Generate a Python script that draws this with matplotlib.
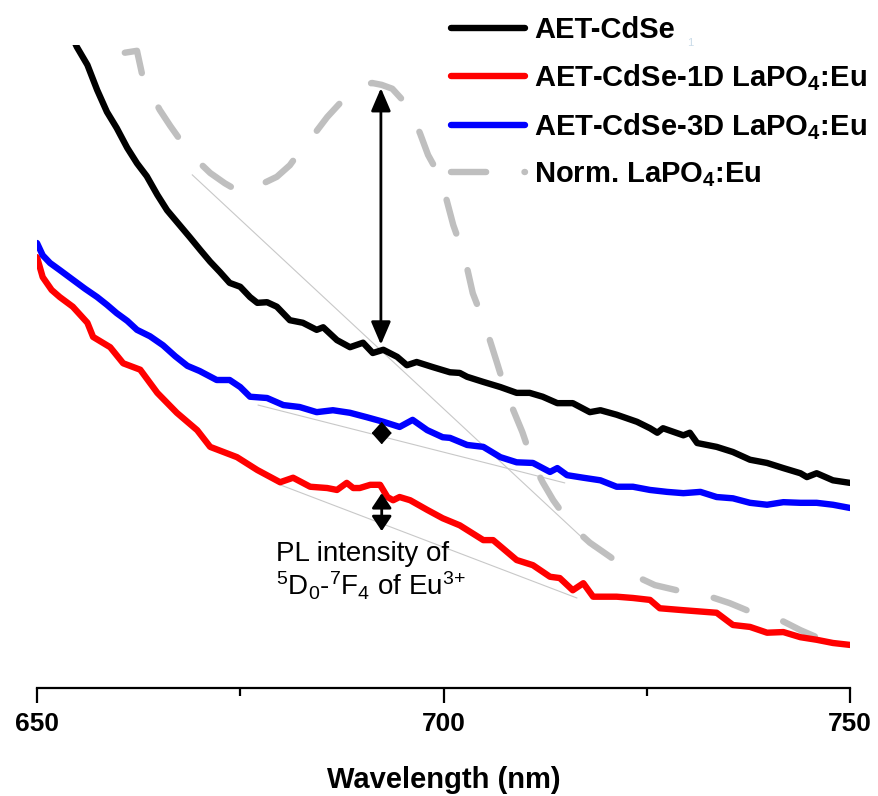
import matplotlib
matplotlib.use("Agg")
import matplotlib.pyplot as plt
from matplotlib.lines import Line2D

plt.rcParams["font.family"] = ["Liberation Sans", "DejaVu Sans"]
plt.rcParams["mathtext.default"] = "regular"

# ---- spectra (wavelength in nm, PL intensity in a.u.) ----
wl_cdse = [654.5, 654.9, 656.2, 657.4, 658.6, 659.8, 661.1, 662.3, 663.5, 664.8,
           666.0, 667.2, 668.8, 670.1, 671.3, 672.5, 673.7, 675.0, 676.2, 677.1,
           678.3, 679.5, 681.1, 682.7, 684.4, 685.2, 686.9, 688.5, 690.1, 691.3,
           692.6, 694.3, 695.5, 696.7, 698.7, 700.8, 702.0, 702.9, 704.9, 707.0,
           709.0, 710.6, 712.2, 714.0, 715.9, 718.0, 719.3, 721.3, 723.8, 725.4,
           726.3, 727.0, 729.5, 730.3, 731.2, 733.6, 735.6, 737.7, 739.8, 741.8,
           743.9, 744.7, 745.9, 747.9, 750.0]
pl_cdse = [100.8, 99.7, 96.9, 93.0, 89.6, 87.1, 84.0, 81.6, 79.6, 76.7,
           74.3, 72.5, 70.1, 68.1, 66.3, 64.7, 63.0, 62.4, 60.8, 59.9,
           60.0, 59.3, 57.2, 56.8, 55.7, 56.1, 54.1, 53.0, 53.7, 52.1,
           52.6, 51.5, 50.2, 50.7, 49.9, 49.1, 49.0, 48.4, 47.6, 46.8,
           45.9, 45.9, 45.3, 44.3, 44.3, 42.9, 43.2, 42.5, 41.4, 40.4,
           39.7, 40.4, 39.3, 39.7, 38.1, 37.5, 36.7, 35.5, 35.0, 34.2,
           33.4, 32.8, 33.4, 32.3, 31.9]

wl_1d = [650.0, 650.7, 651.8, 652.8, 654.4, 656.2, 656.9, 659.0, 660.6, 662.7,
         664.8, 667.2, 669.7, 671.3, 674.6, 677.1, 679.9, 681.5, 683.6, 685.7,
         686.9, 688.1, 688.9, 689.7, 691.0, 692.2, 693.1, 693.8, 694.6, 695.9,
         698.0, 699.9, 702.0, 704.9, 706.1, 709.0, 711.0, 713.1, 714.3, 715.9,
         717.2, 718.4, 721.3, 723.3, 725.4, 726.6, 729.5, 733.6, 735.6, 737.7,
         739.8, 741.8, 743.9, 745.9, 747.9, 750.0]
pl_1d = [67.0, 63.9, 61.9, 60.8, 59.3, 56.8, 54.6, 53.0, 50.5, 49.5,
         45.9, 42.8, 40.1, 37.5, 35.9, 33.9, 32.0, 32.7, 31.3, 31.1,
         30.8, 31.9, 31.1, 31.1, 31.6, 31.6, 29.7, 29.2, 29.7, 29.2,
         27.7, 26.4, 25.3, 23.0, 23.0, 19.9, 19.1, 17.3, 17.1, 15.2,
         16.3, 14.2, 14.2, 14.0, 13.7, 12.4, 12.1, 11.7, 9.8, 9.5,
         8.6, 8.7, 7.9, 7.5, 7.0, 6.7]

wl_3d = [650.0, 650.7, 651.6, 652.8, 654.4, 655.9, 657.4, 658.6, 659.8, 661.1,
         662.3, 663.9, 665.5, 667.0, 668.5, 670.0, 672.1, 673.7, 675.0, 676.2,
         678.3, 680.3, 682.3, 684.4, 686.4, 688.5, 690.6, 692.6, 694.6, 696.2,
         698.0, 699.9, 700.8, 702.9, 704.9, 707.0, 709.0, 711.0, 713.1, 714.0,
         715.2, 717.2, 719.3, 721.3, 723.3, 725.4, 727.5, 729.5, 731.6, 733.6,
         735.6, 737.7, 739.8, 741.8, 743.9, 745.9, 747.9, 750.0]
pl_3d = [69.2, 67.3, 66.1, 65.0, 63.5, 62.1, 60.8, 59.6, 58.3, 57.1,
         55.7, 54.7, 53.3, 51.6, 50.1, 49.3, 47.9, 47.9, 46.8, 45.3,
         45.1, 44.0, 43.7, 42.9, 43.2, 42.8, 42.1, 41.4, 40.6, 41.7,
         40.1, 39.0, 38.9, 37.8, 37.5, 35.9, 35.1, 35.0, 33.6, 34.2,
         33.1, 32.7, 32.3, 31.3, 31.3, 30.8, 30.5, 30.3, 30.5, 29.7,
         29.5, 28.8, 28.5, 28.9, 28.8, 28.8, 28.5, 28.0]

wl_lapo = [660.8, 662.3, 662.9, 663.9, 665.1, 666.4, 667.8, 669.4, 671.3, 673.1,
           675.0, 677.2, 679.5, 681.1, 682.3, 684.2, 685.7, 687.3, 688.9, 690.0,
           691.2, 692.4, 693.7, 695.0, 696.1, 697.1, 698.1, 699.1, 699.9, 701.2,
           702.6, 703.6, 705.1, 706.6, 707.8, 709.7, 711.0, 712.2, 713.5, 715.9,
           718.0, 720.5, 723.8, 726.0, 728.7, 730.7, 732.8, 735.2, 737.3, 739.5,
           741.4, 743.9, 745.9, 747.9, 750.0]
pl_lapo = [98.8, 99.1, 95.6, 92.7, 89.9, 87.4, 84.9, 82.4, 80.1, 78.5,
           77.1, 78.1, 79.5, 81.3, 83.4, 86.3, 88.8, 91.0, 92.7, 93.6,
           94.1, 93.8, 93.2, 91.4, 89.1, 86.3, 82.9, 80.6, 78.2, 72.0,
           67.0, 61.4, 56.5, 50.5, 45.6, 39.8, 35.0, 32.0, 29.2, 25.0,
           22.6, 20.4, 17.3, 16.0, 15.2, 14.8, 14.2, 13.2, 12.1, 11.4,
           10.6, 9.0, 7.9, 7.3, 7.2]

series_labels = ["AET-CdSe", "AET-CdSe-1D LaPO$_4$:Eu",
                 "AET-CdSe-3D LaPO$_4$:Eu", "Norm. LaPO$_4$:Eu"]

# background guide lines under the 5D0-7F4 band: (wl start, wl end, I start, I end)
guide_wl = [(669.1, 718.4), (677.2, 714.9), (679.9, 716.4)]
guide_pl = [(79.8, 21.8), (44.0, 31.9), (31.6, 14.0)]

# double arrows marking the Eu3+ emission height at ~692 nm
arrow_wl = [692.3, 692.4, 692.4]
arrow_top = [93.3, 41.4, 30.3]
arrow_bottom = [53.4, 37.9, 24.4]
arrow_head_len = [0.7, 0.36, 0.45]
arrow_head_wid = [0.3, 0.32, 0.3]
arrow_lw = [2.0, 1.2, 2.0]

x_ticks = [650, 700, 750]
x_minor = [675, 725]

fig = plt.figure(figsize=(8.79, 7.96), dpi=100)
ax = fig.add_axes([37 / 879, 108 / 796, 813 / 879, 643 / 796])

for (w0, w1), (p0, p1) in zip(guide_wl, guide_pl):
    ax.plot([w0, w1], [p0, p1], color="#c8c8c8", lw=0.8, zorder=1)

lw = 4.6
dash = (5.5, 6.0)
ax.plot(wl_cdse, pl_cdse, color="black", lw=lw, solid_capstyle="round", zorder=3)
ax.plot(wl_1d, pl_1d, color="#ff0000", lw=lw, solid_capstyle="round", zorder=3)
ax.plot(wl_3d, pl_3d, color="#0000ff", lw=lw, solid_capstyle="round", zorder=3)
ax.plot(wl_lapo, pl_lapo, color="#bfbfbf", lw=lw, dashes=dash,
        dash_capstyle="round", zorder=2)

for xw, top, bot, hl, hw, alw in zip(arrow_wl, arrow_top, arrow_bottom,
                                     arrow_head_len, arrow_head_wid, arrow_lw):
    ax.annotate("", xy=(xw, bot), xytext=(xw, top),
                arrowprops=dict(arrowstyle=f"<|-|>,head_length={hl},head_width={hw}",
                                color="black", lw=alw, mutation_scale=20,
                                shrinkA=0, shrinkB=0), zorder=5)

ax.set_xlim(650, 750)
ax.set_ylim(0, 100)
for side in ("left", "right", "top"):
    ax.spines[side].set_visible(False)
ax.spines["bottom"].set_linewidth(1.6)
ax.set_yticks([])
ax.set_xticks(x_ticks)
ax.set_xticks(x_minor, minor=True)
ax.tick_params(axis="x", which="major", direction="out", length=11, width=1.6,
               pad=6, labelsize=19)
ax.tick_params(axis="x", which="minor", direction="out", length=6, width=1.6)
for lab in ax.get_xticklabels():
    lab.set_fontweight("bold")
ax.set_xlabel("Wavelength (nm)", fontsize=21, fontweight="bold", labelpad=22)

handles = [
    Line2D([], [], color="black", lw=lw, solid_capstyle="round"),
    Line2D([], [], color="#ff0000", lw=lw, solid_capstyle="round"),
    Line2D([], [], color="#0000ff", lw=lw, solid_capstyle="round"),
    Line2D([], [], color="#bfbfbf", lw=lw, dashes=dash, dash_capstyle="round"),
]
fig.legend(handles, series_labels, loc="upper left",
           bbox_to_anchor=(451 / 879, 1 - 16 / 796), frameon=False,
           prop=dict(family="Liberation Sans", weight="bold", size=21),
           handlelength=2.55, handletextpad=0.3, labelspacing=0.62,
           borderpad=0, borderaxespad=0)

fig.text(690 / 879, 1 - 43 / 796, "1", fontsize=8, color="#c9dbe8",
         ha="center", va="center")

fig.text(276 / 879, 1 - 541 / 796, "PL intensity of", fontsize=20,
         ha="left", va="top")
fig.text(276 / 879, 1 - 570 / 796, "$^5$D$_0$-$^7$F$_4$ of Eu$^{3{+}}$", fontsize=20,
         ha="left", va="top")

fig.savefig("out.png", dpi=100)
